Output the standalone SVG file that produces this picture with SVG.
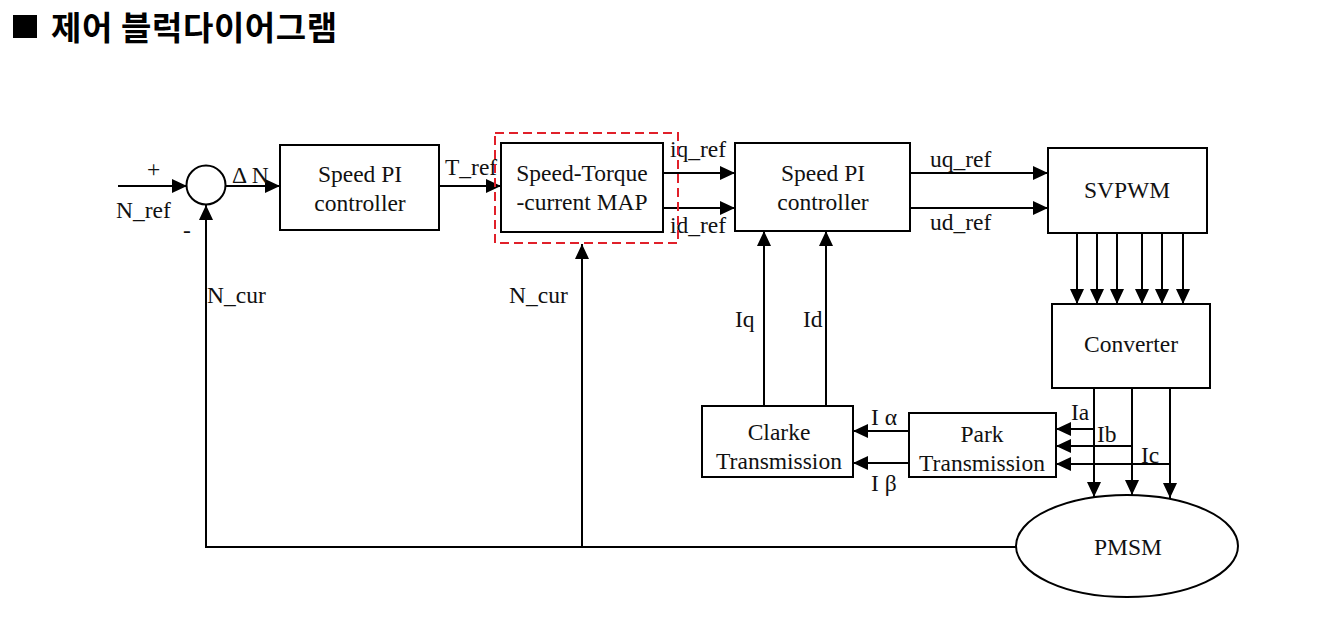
<svg xmlns="http://www.w3.org/2000/svg" width="1338" height="627" viewBox="0 0 1338 627">
<style>
  .ln { stroke: #000; stroke-width: 2; fill: none; }
  .ar { stroke: #000; stroke-width: 2; fill: none; marker-end: url(#ah); }
  .box { stroke: #000; stroke-width: 2; fill: #fff; }
  .t { font-family: "Liberation Serif", "Times New Roman", serif; font-size: 23.5px; fill: #111; }
  .c { text-anchor: middle; }
  .title { font-family: "Noto Sans CJK KR", "Noto Sans", sans-serif; font-weight: bold; font-size: 33px; letter-spacing: 0.6px; fill: #000; }
</style>
<defs>
  <marker id="ah" markerUnits="userSpaceOnUse" markerWidth="15" markerHeight="14" refX="15" refY="7" orient="auto">
    <path d="M0,0 L15,7 L0,14 z" fill="#000"/>
  </marker>
</defs>
<rect width="1338" height="627" fill="#fff"/>

<g id="title">
  <rect x="13" y="15" width="24" height="23" fill="#000"/>
  <text class="title" x="51" y="40">제어 블럭다이어그램</text>
</g>

<g id="connectors">
  <line class="ar" x1="118" y1="186" x2="187" y2="186"/>
  <line class="ar" x1="226" y1="186" x2="280" y2="186"/>
  <line class="ar" x1="439" y1="186" x2="501" y2="186"/>
  <line class="ar" x1="663" y1="173" x2="735" y2="173"/>
  <line class="ar" x1="663" y1="208" x2="735" y2="208"/>
  <line class="ar" x1="908" y1="173" x2="1048" y2="173"/>
  <line class="ar" x1="908" y1="208" x2="1048" y2="208"/>
  <line class="ar" x1="1077" y1="233" x2="1077" y2="304"/>
  <line class="ar" x1="1097" y1="233" x2="1097" y2="304"/>
  <line class="ar" x1="1117" y1="233" x2="1117" y2="304"/>
  <line class="ar" x1="1142" y1="233" x2="1142" y2="304"/>
  <line class="ar" x1="1162" y1="233" x2="1162" y2="304"/>
  <line class="ar" x1="1183" y1="233" x2="1183" y2="304"/>
  <line class="ar" x1="1094" y1="388" x2="1094" y2="497"/>
  <line class="ar" x1="1132" y1="388" x2="1132" y2="495"/>
  <line class="ar" x1="1170" y1="388" x2="1170" y2="498"/>
  <line class="ar" x1="1094" y1="429" x2="1056" y2="429"/>
  <line class="ar" x1="1132" y1="446" x2="1056" y2="446"/>
  <line class="ar" x1="1170" y1="464" x2="1056" y2="464"/>
  <line class="ar" x1="909" y1="431" x2="853" y2="431"/>
  <line class="ar" x1="909" y1="463" x2="853" y2="463"/>
  <line class="ar" x1="764" y1="406" x2="764" y2="231"/>
  <line class="ar" x1="826" y1="406" x2="826" y2="231"/>
  <polyline class="ln" points="1016,547 206,547 206,220"/>
  <line class="ar" x1="206" y1="230" x2="206" y2="205"/>
  <line class="ar" x1="582" y1="547" x2="582" y2="244"/>
</g>

<g id="labels">
  <text class="t" x="147" y="177">+</text>
  <text class="t" x="116" y="218">N_ref</text>
  <text class="t" x="183" y="238">-</text>
  <text class="t" x="232" y="183">Δ N</text>
  <text class="t" x="445" y="175">T_ref</text>
  <text class="t" x="670" y="157">iq_ref</text>
  <text class="t" x="670" y="233">id_ref</text>
  <text class="t" x="930" y="167">uq_ref</text>
  <text class="t" x="930" y="230">ud_ref</text>
  <text class="t" x="735" y="327">Iq</text>
  <text class="t" x="803" y="327">Id</text>
  <text class="t" x="871" y="425">I α</text>
  <text class="t" x="871" y="491">I β</text>
  <text class="t" x="1071" y="420">Ia</text>
  <text class="t" x="1097" y="442">Ib</text>
  <text class="t" x="1141" y="463">Ic</text>
  <text class="t" x="207" y="303">N_cur</text>
  <text class="t" x="509" y="303">N_cur</text>
</g>

<g id="sum">
  <circle cx="206" cy="185" r="19.5" class="box"/>
</g>

<g id="speed-pi-1">
  <rect class="box" x="280" y="145" width="159" height="85"/>
  <text class="t c" x="360" y="182">Speed PI</text>
  <text class="t c" x="360" y="211">controller</text>
</g>

<g id="map">
  <rect x="495" y="133" width="183" height="110" fill="none" stroke="#e0202a" stroke-width="2" stroke-dasharray="9,5"/>
  <rect class="box" x="501" y="143" width="162" height="89"/>
  <text class="t c" x="582" y="181">Speed-Torque</text>
  <text class="t c" x="582" y="210">-current MAP</text>
</g>

<g id="speed-pi-2">
  <rect class="box" x="735" y="143" width="175" height="88"/>
  <text class="t c" x="823" y="181">Speed PI</text>
  <text class="t c" x="823" y="210">controller</text>
</g>

<g id="svpwm">
  <rect class="box" x="1048" y="148" width="159" height="85"/>
  <text class="t c" x="1127" y="198">SVPWM</text>
</g>

<g id="converter">
  <rect class="box" x="1052" y="304" width="158" height="84"/>
  <text class="t c" x="1131" y="352">Converter</text>
</g>

<g id="clarke">
  <rect class="box" x="702" y="406" width="151" height="71"/>
  <text class="t c" x="779" y="440">Clarke</text>
  <text class="t c" x="779" y="469">Transmission</text>
</g>

<g id="park">
  <rect class="box" x="909" y="413" width="147" height="64"/>
  <text class="t c" x="982" y="442">Park</text>
  <text class="t c" x="982" y="471">Transmission</text>
</g>

<g id="pmsm">
  <ellipse class="box" cx="1127" cy="546" rx="111" ry="51"/>
  <text class="t c" x="1128" y="555">PMSM</text>
</g>
</svg>
